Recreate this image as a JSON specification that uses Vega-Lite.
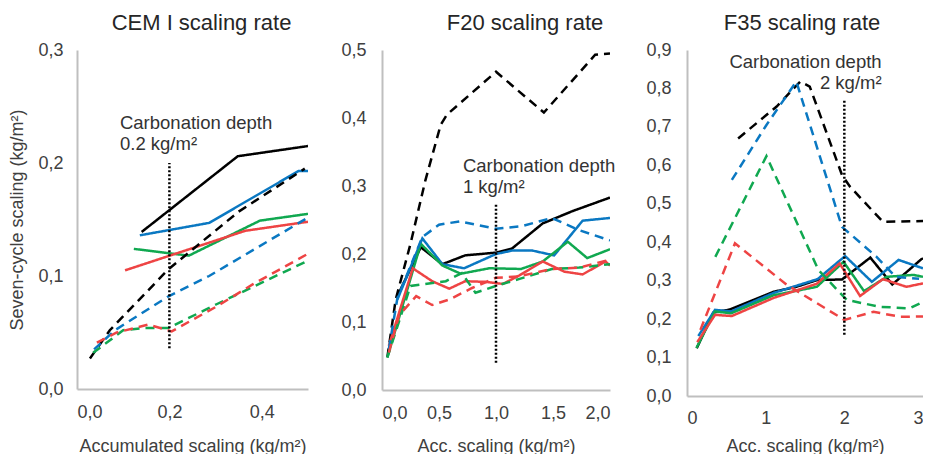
{
"$schema":"https://vega.github.io/schema/vega-lite/v6.json",
"padding":{"left":8,"top":12,"right":0,"bottom":0},
"spacing":32,
"config":{
 "locale":{"number":{"decimal":",","thousands":".","grouping":[3],"currency":["","€"]}},
 "font":"Liberation Sans",
 "view":{"stroke":null},
 "axis":{"grid":false,"ticks":false,"domainColor":"#bfbfbf","domainWidth":2,"labelFontSize":18,"labelColor":"#404040","titleFontSize":18,"titleFontWeight":"normal","titleColor":"#404040","labelPadding":14,"titlePadding":13,"labelOverlap":false,"labelBound":false,"tickCount":20},
 "title":{"fontSize":22,"fontWeight":"normal","color":"#262626","offset":6}
},
"datasets":{
"lines":[
{"p":"CEM","s":"s1","d":"solid","x":0.14,"y":0.139},{"p":"CEM","s":"s1","d":"solid","x":0.348,"y":0.206},{"p":"CEM","s":"s1","d":"solid","x":0.5,"y":0.215},
{"p":"CEM","s":"s2","d":"solid","x":0.136,"y":0.136},{"p":"CEM","s":"s2","d":"solid","x":0.286,"y":0.147},{"p":"CEM","s":"s2","d":"solid","x":0.48,"y":0.193},{"p":"CEM","s":"s2","d":"solid","x":0.5,"y":0.193},
{"p":"CEM","s":"s3","d":"solid","x":0.123,"y":0.124},{"p":"CEM","s":"s3","d":"solid","x":0.242,"y":0.118},{"p":"CEM","s":"s3","d":"solid","x":0.396,"y":0.149},{"p":"CEM","s":"s3","d":"solid","x":0.5,"y":0.155},
{"p":"CEM","s":"s4","d":"solid","x":0.104,"y":0.105},{"p":"CEM","s":"s4","d":"solid","x":0.364,"y":0.14},{"p":"CEM","s":"s4","d":"solid","x":0.5,"y":0.148},
{"p":"CEM","s":"s1","d":"dashed","x":0.028,"y":0.027},{"p":"CEM","s":"s1","d":"dashed","x":0.071,"y":0.052},{"p":"CEM","s":"s1","d":"dashed","x":0.198,"y":0.106},{"p":"CEM","s":"s1","d":"dashed","x":0.35,"y":0.157},{"p":"CEM","s":"s1","d":"dashed","x":0.493,"y":0.195},
{"p":"CEM","s":"s2","d":"dashed","x":0.037,"y":0.035},{"p":"CEM","s":"s2","d":"dashed","x":0.082,"y":0.052},{"p":"CEM","s":"s2","d":"dashed","x":0.198,"y":0.082},{"p":"CEM","s":"s2","d":"dashed","x":0.286,"y":0.1},{"p":"CEM","s":"s2","d":"dashed","x":0.497,"y":0.151},
{"p":"CEM","s":"s3","d":"dashed","x":0.035,"y":0.032},{"p":"CEM","s":"s3","d":"dashed","x":0.1,"y":0.052},{"p":"CEM","s":"s3","d":"dashed","x":0.144,"y":0.054},{"p":"CEM","s":"s3","d":"dashed","x":0.198,"y":0.054},{"p":"CEM","s":"s3","d":"dashed","x":0.302,"y":0.075},{"p":"CEM","s":"s3","d":"dashed","x":0.497,"y":0.113},
{"p":"CEM","s":"s4","d":"dashed","x":0.043,"y":0.041},{"p":"CEM","s":"s4","d":"dashed","x":0.086,"y":0.05},{"p":"CEM","s":"s4","d":"dashed","x":0.154,"y":0.057},{"p":"CEM","s":"s4","d":"dashed","x":0.205,"y":0.051},{"p":"CEM","s":"s4","d":"dashed","x":0.302,"y":0.073},{"p":"CEM","s":"s4","d":"dashed","x":0.382,"y":0.093},{"p":"CEM","s":"s4","d":"dashed","x":0.497,"y":0.119},

{"p":"F20","s":"s1","d":"dashed","x":0.047,"y":0.048},{"p":"F20","s":"s1","d":"dashed","x":0.12,"y":0.133},{"p":"F20","s":"s1","d":"dashed","x":0.25,"y":0.215},{"p":"F20","s":"s1","d":"dashed","x":0.38,"y":0.308},{"p":"F20","s":"s1","d":"dashed","x":0.515,"y":0.39},{"p":"F20","s":"s1","d":"dashed","x":0.57,"y":0.405},{"p":"F20","s":"s1","d":"dashed","x":1.0,"y":0.468},{"p":"F20","s":"s1","d":"dashed","x":1.42,"y":0.408},{"p":"F20","s":"s1","d":"dashed","x":1.87,"y":0.493},{"p":"F20","s":"s1","d":"dashed","x":2.0,"y":0.495},
{"p":"F20","s":"s1","d":"solid","x":0.135,"y":0.138},{"p":"F20","s":"s1","d":"solid","x":0.34,"y":0.21},{"p":"F20","s":"s1","d":"solid","x":0.53,"y":0.185},{"p":"F20","s":"s1","d":"solid","x":0.73,"y":0.198},{"p":"F20","s":"s1","d":"solid","x":1.0,"y":0.202},{"p":"F20","s":"s1","d":"solid","x":1.14,"y":0.208},{"p":"F20","s":"s1","d":"solid","x":1.41,"y":0.245},{"p":"F20","s":"s1","d":"solid","x":1.67,"y":0.263},{"p":"F20","s":"s1","d":"solid","x":2.0,"y":0.283},
{"p":"F20","s":"s2","d":"solid","x":0.135,"y":0.133},{"p":"F20","s":"s2","d":"solid","x":0.354,"y":0.223},{"p":"F20","s":"s2","d":"solid","x":0.53,"y":0.185},{"p":"F20","s":"s2","d":"solid","x":0.72,"y":0.179},{"p":"F20","s":"s2","d":"solid","x":1.0,"y":0.2},{"p":"F20","s":"s2","d":"solid","x":1.14,"y":0.205},{"p":"F20","s":"s2","d":"solid","x":1.32,"y":0.205},{"p":"F20","s":"s2","d":"solid","x":1.51,"y":0.198},{"p":"F20","s":"s2","d":"solid","x":1.76,"y":0.249},{"p":"F20","s":"s2","d":"solid","x":2.0,"y":0.253},
{"p":"F20","s":"s3","d":"solid","x":0.047,"y":0.048},{"p":"F20","s":"s3","d":"solid","x":0.34,"y":0.215},{"p":"F20","s":"s3","d":"solid","x":0.53,"y":0.183},{"p":"F20","s":"s3","d":"solid","x":0.69,"y":0.171},{"p":"F20","s":"s3","d":"solid","x":0.94,"y":0.179},{"p":"F20","s":"s3","d":"solid","x":1.22,"y":0.178},{"p":"F20","s":"s3","d":"solid","x":1.41,"y":0.189},{"p":"F20","s":"s3","d":"solid","x":1.63,"y":0.218},{"p":"F20","s":"s3","d":"solid","x":1.8,"y":0.194},{"p":"F20","s":"s3","d":"solid","x":2.0,"y":0.207},
{"p":"F20","s":"s4","d":"solid","x":0.06,"y":0.065},{"p":"F20","s":"s4","d":"solid","x":0.27,"y":0.179},{"p":"F20","s":"s4","d":"solid","x":0.44,"y":0.16},{"p":"F20","s":"s4","d":"solid","x":0.59,"y":0.149},{"p":"F20","s":"s4","d":"solid","x":0.73,"y":0.16},{"p":"F20","s":"s4","d":"solid","x":0.91,"y":0.159},{"p":"F20","s":"s4","d":"solid","x":1.06,"y":0.156},{"p":"F20","s":"s4","d":"solid","x":1.2,"y":0.168},{"p":"F20","s":"s4","d":"solid","x":1.41,"y":0.189},{"p":"F20","s":"s4","d":"solid","x":1.6,"y":0.174},{"p":"F20","s":"s4","d":"solid","x":1.76,"y":0.17},{"p":"F20","s":"s4","d":"solid","x":1.96,"y":0.189},{"p":"F20","s":"s4","d":"solid","x":2.0,"y":0.183},
{"p":"F20","s":"s2","d":"dashed","x":0.06,"y":0.06},{"p":"F20","s":"s2","d":"dashed","x":0.135,"y":0.135},{"p":"F20","s":"s2","d":"dashed","x":0.354,"y":0.225},{"p":"F20","s":"s2","d":"dashed","x":0.5,"y":0.243},{"p":"F20","s":"s2","d":"dashed","x":0.68,"y":0.248},{"p":"F20","s":"s2","d":"dashed","x":1.0,"y":0.237},{"p":"F20","s":"s2","d":"dashed","x":1.23,"y":0.241},{"p":"F20","s":"s2","d":"dashed","x":1.49,"y":0.253},{"p":"F20","s":"s2","d":"dashed","x":1.73,"y":0.235},{"p":"F20","s":"s2","d":"dashed","x":2.0,"y":0.22},
{"p":"F20","s":"s3","d":"dashed","x":0.047,"y":0.048},{"p":"F20","s":"s3","d":"dashed","x":0.25,"y":0.153},{"p":"F20","s":"s3","d":"dashed","x":0.56,"y":0.16},{"p":"F20","s":"s3","d":"dashed","x":0.7,"y":0.172},{"p":"F20","s":"s3","d":"dashed","x":0.82,"y":0.143},{"p":"F20","s":"s3","d":"dashed","x":1.0,"y":0.153},{"p":"F20","s":"s3","d":"dashed","x":1.2,"y":0.163},{"p":"F20","s":"s3","d":"dashed","x":1.49,"y":0.178},{"p":"F20","s":"s3","d":"dashed","x":1.73,"y":0.18},{"p":"F20","s":"s3","d":"dashed","x":2.0,"y":0.185},
{"p":"F20","s":"s4","d":"dashed","x":0.06,"y":0.055},{"p":"F20","s":"s4","d":"dashed","x":0.15,"y":0.11},{"p":"F20","s":"s4","d":"dashed","x":0.3,"y":0.138},{"p":"F20","s":"s4","d":"dashed","x":0.44,"y":0.125},{"p":"F20","s":"s4","d":"dashed","x":0.59,"y":0.133},{"p":"F20","s":"s4","d":"dashed","x":0.79,"y":0.15},{"p":"F20","s":"s4","d":"dashed","x":1.0,"y":0.165},{"p":"F20","s":"s4","d":"dashed","x":1.2,"y":0.167},{"p":"F20","s":"s4","d":"dashed","x":1.49,"y":0.178},{"p":"F20","s":"s4","d":"dashed","x":1.73,"y":0.18},{"p":"F20","s":"s4","d":"dashed","x":1.96,"y":0.19},{"p":"F20","s":"s4","d":"dashed","x":2.0,"y":0.185},

{"p":"F35","s":"s1","d":"solid","x":0.123,"y":0.124},{"p":"F35","s":"s1","d":"solid","x":0.334,"y":0.217},{"p":"F35","s":"s1","d":"solid","x":0.546,"y":0.225},{"p":"F35","s":"s1","d":"solid","x":1.1,"y":0.271},{"p":"F35","s":"s1","d":"solid","x":1.39,"y":0.284},{"p":"F35","s":"s1","d":"solid","x":1.66,"y":0.302},{"p":"F35","s":"s1","d":"solid","x":1.97,"y":0.303},{"p":"F35","s":"s1","d":"solid","x":2.33,"y":0.36},{"p":"F35","s":"s1","d":"solid","x":2.61,"y":0.29},{"p":"F35","s":"s1","d":"solid","x":2.98,"y":0.356},{"p":"F35","s":"s1","d":"solid","x":3.0,"y":0.358},
{"p":"F35","s":"s2","d":"solid","x":0.144,"y":0.156},{"p":"F35","s":"s2","d":"solid","x":0.356,"y":0.224},{"p":"F35","s":"s2","d":"solid","x":0.56,"y":0.22},{"p":"F35","s":"s2","d":"solid","x":1.1,"y":0.268},{"p":"F35","s":"s2","d":"solid","x":1.66,"y":0.304},{"p":"F35","s":"s2","d":"solid","x":2.01,"y":0.364},{"p":"F35","s":"s2","d":"solid","x":2.35,"y":0.297},{"p":"F35","s":"s2","d":"solid","x":2.69,"y":0.354},{"p":"F35","s":"s2","d":"solid","x":3.0,"y":0.332},
{"p":"F35","s":"s3","d":"solid","x":0.12,"y":0.125},{"p":"F35","s":"s3","d":"solid","x":0.356,"y":0.22},{"p":"F35","s":"s3","d":"solid","x":0.56,"y":0.215},{"p":"F35","s":"s3","d":"solid","x":1.1,"y":0.262},{"p":"F35","s":"s3","d":"solid","x":1.65,"y":0.284},{"p":"F35","s":"s3","d":"solid","x":1.99,"y":0.349},{"p":"F35","s":"s3","d":"solid","x":2.25,"y":0.273},{"p":"F35","s":"s3","d":"solid","x":2.54,"y":0.31},{"p":"F35","s":"s3","d":"solid","x":2.88,"y":0.315},{"p":"F35","s":"s3","d":"solid","x":3.0,"y":0.31},
{"p":"F35","s":"s4","d":"solid","x":0.13,"y":0.14},{"p":"F35","s":"s4","d":"solid","x":0.356,"y":0.211},{"p":"F35","s":"s4","d":"solid","x":0.57,"y":0.208},{"p":"F35","s":"s4","d":"solid","x":1.1,"y":0.255},{"p":"F35","s":"s4","d":"solid","x":1.65,"y":0.292},{"p":"F35","s":"s4","d":"solid","x":1.94,"y":0.345},{"p":"F35","s":"s4","d":"solid","x":2.2,"y":0.26},{"p":"F35","s":"s4","d":"solid","x":2.49,"y":0.304},{"p":"F35","s":"s4","d":"solid","x":2.79,"y":0.284},{"p":"F35","s":"s4","d":"solid","x":3.0,"y":0.293},
{"p":"F35","s":"s1","d":"dashed","x":0.65,"y":0.67},{"p":"F35","s":"s1","d":"dashed","x":1.14,"y":0.753},{"p":"F35","s":"s1","d":"dashed","x":1.44,"y":0.818},{"p":"F35","s":"s1","d":"dashed","x":1.56,"y":0.805},{"p":"F35","s":"s1","d":"dashed","x":1.97,"y":0.575},{"p":"F35","s":"s1","d":"dashed","x":2.07,"y":0.545},{"p":"F35","s":"s1","d":"dashed","x":2.49,"y":0.453},{"p":"F35","s":"s1","d":"dashed","x":3.0,"y":0.455},
{"p":"F35","s":"s2","d":"dashed","x":0.57,"y":0.562},{"p":"F35","s":"s2","d":"dashed","x":1.01,"y":0.705},{"p":"F35","s":"s2","d":"dashed","x":1.39,"y":0.818},{"p":"F35","s":"s2","d":"dashed","x":1.97,"y":0.44},{"p":"F35","s":"s2","d":"dashed","x":2.41,"y":0.362},{"p":"F35","s":"s2","d":"dashed","x":2.65,"y":0.31},{"p":"F35","s":"s2","d":"dashed","x":2.95,"y":0.305},
{"p":"F35","s":"s3","d":"dashed","x":0.36,"y":0.362},{"p":"F35","s":"s3","d":"dashed","x":1.01,"y":0.624},{"p":"F35","s":"s3","d":"dashed","x":1.67,"y":0.328},{"p":"F35","s":"s3","d":"dashed","x":2.03,"y":0.25},{"p":"F35","s":"s3","d":"dashed","x":2.45,"y":0.232},{"p":"F35","s":"s3","d":"dashed","x":2.83,"y":0.228},{"p":"F35","s":"s3","d":"dashed","x":3.0,"y":0.245},
{"p":"F35","s":"s4","d":"dashed","x":0.17,"y":0.172},{"p":"F35","s":"s4","d":"dashed","x":0.61,"y":0.397},{"p":"F35","s":"s4","d":"dashed","x":1.27,"y":0.289},{"p":"F35","s":"s4","d":"dashed","x":2.0,"y":0.198},{"p":"F35","s":"s4","d":"dashed","x":2.37,"y":0.219},{"p":"F35","s":"s4","d":"dashed","x":2.71,"y":0.206},{"p":"F35","s":"s4","d":"dashed","x":3.0,"y":0.207}
],
"rules":[
{"p":"CEM","x":0.2,"y":0.036,"y2":0.2},
{"p":"F20","x":1.0,"y":0.04,"y2":0.275},
{"p":"F35","x":2.0,"y":0.159,"y2":0.77}
],
"notes":[
{"p":"CEM","x":0.093,"y":0.2297,"t":"Carbonation depth"},
{"p":"CEM","x":0.093,"y":0.2117,"t":"0.2 kg/m²"},
{"p":"F20","x":0.71,"y":0.321,"t":"Carbonation depth"},
{"p":"F20","x":0.71,"y":0.29,"t":"1 kg/m²"},
{"p":"F35","x":2.474,"y":0.8525,"t":"Carbonation depth"},
{"p":"F35","x":2.474,"y":0.798,"t":"2 kg/m²"}
]
},
"hconcat":[
{
 "width":231,"height":339,
 "title":{"text":"CEM I scaling rate","dx":9},
 "layer":[
  {"data":{"name":"lines"},"transform":[{"filter":"datum.p==='CEM'"}],"mark":{"type":"line","strokeWidth":2.5,"clip":true},
   "encoding":{
    "x":{"field":"x","type":"quantitative","scale":{"domain":[0,0.5],"nice":false},"axis":{"values":[0,0.2,0.4],"format":".1f","title":"Accumulated scaling (kg/m²)","titlePadding":16,"labelOverlap":false,"tickCount":20}},
    "y":{"field":"y","type":"quantitative","scale":{"domain":[0,0.3],"nice":false},"axis":{"values":[0,0.1,0.2,0.3],"format":".1f","title":"Seven-cycle scaling (kg/m²)","titlePadding":11,"labelOverlap":false,"tickCount":20}},
    "color":{"field":"s","type":"nominal","scale":{"domain":["s1","s2","s3","s4"],"range":["#000000","#0a78c2","#10a850","#ee4444"]},"legend":null},
    "strokeDash":{"field":"d","type":"nominal","scale":{"domain":["solid","dashed"],"range":[[1,0],[9,6]]},"legend":null}
   }},
  {"data":{"name":"rules"},"transform":[{"filter":"datum.p==='CEM'"}],"mark":{"type":"rule","strokeWidth":2.5,"strokeDash":[2,2],"color":"#000000"},
   "encoding":{"x":{"field":"x","type":"quantitative"},"y":{"field":"y","type":"quantitative"},"y2":{"field":"y2"}}},
  {"data":{"name":"notes"},"transform":[{"filter":"datum.p==='CEM'"}],"mark":{"type":"text","align":"left","baseline":"alphabetic","fontSize":18.5,"color":"#333333"},
   "encoding":{"x":{"field":"x","type":"quantitative"},"y":{"field":"y","type":"quantitative"},"text":{"field":"t"}}}
 ]
},
{
"spacing":29,
"hconcat":[
{
 "width":228,"height":340,
 "title":{"text":"F20 scaling rate","dx":29},
 "layer":[
  {"data":{"name":"lines"},"transform":[{"filter":"datum.p==='F20'"}],"mark":{"type":"line","strokeWidth":2.5,"clip":true},
   "encoding":{
    "x":{"field":"x","type":"quantitative","scale":{"domain":[0,2],"nice":false},"axis":{"values":[0,0.5,1,1.5,2],"format":".1f","title":"Acc. scaling (kg/m²)","titlePadding":15,"labelOverlap":false,"tickCount":20}},
    "y":{"field":"y","type":"quantitative","scale":{"domain":[0,0.5],"nice":false},"axis":{"values":[0,0.1,0.2,0.3,0.4,0.5],"format":".1f","title":null,"labelPadding":16,"labelOverlap":false,"tickCount":20}},
    "color":{"field":"s","type":"nominal","scale":{"domain":["s1","s2","s3","s4"],"range":["#000000","#0a78c2","#10a850","#ee4444"]},"legend":null},
    "strokeDash":{"field":"d","type":"nominal","scale":{"domain":["solid","dashed"],"range":[[1,0],[9,6]]},"legend":null}
   }},
  {"data":{"name":"rules"},"transform":[{"filter":"datum.p==='F20'"}],"mark":{"type":"rule","strokeWidth":2.5,"strokeDash":[2,2],"color":"#000000"},
   "encoding":{"x":{"field":"x","type":"quantitative"},"y":{"field":"y","type":"quantitative"},"y2":{"field":"y2"}}},
  {"data":{"name":"notes"},"transform":[{"filter":"datum.p==='F20'"}],"mark":{"type":"text","align":"left","baseline":"alphabetic","fontSize":18.5,"color":"#333333"},
   "encoding":{"x":{"field":"x","type":"quantitative"},"y":{"field":"y","type":"quantitative"},"text":{"field":"t"}}}
 ]
},
{
 "width":236,"height":346,
 "title":{"text":"F35 scaling rate","dx":-3},
 "layer":[
  {"data":{"name":"lines"},"transform":[{"filter":"datum.p==='F35'"}],"mark":{"type":"line","strokeWidth":2.5,"clip":true},
   "encoding":{
    "x":{"field":"x","type":"quantitative","scale":{"domain":[0,3],"nice":false},"axis":{"values":[0,1,2,3],"format":"d","title":"Acc. scaling (kg/m²)","labelPadding":13,"titlePadding":10,"labelOverlap":false,"tickCount":20}},
    "y":{"field":"y","type":"quantitative","scale":{"domain":[0,0.9],"nice":false},"axis":{"values":[0,0.1,0.2,0.3,0.4,0.5,0.6,0.7,0.8,0.9],"format":".1f","title":null,"labelPadding":16,"labelOverlap":false,"tickCount":20}},
    "color":{"field":"s","type":"nominal","scale":{"domain":["s1","s2","s3","s4"],"range":["#000000","#0a78c2","#10a850","#ee4444"]},"legend":null},
    "strokeDash":{"field":"d","type":"nominal","scale":{"domain":["solid","dashed"],"range":[[1,0],[9,6]]},"legend":null}
   }},
  {"data":{"name":"rules"},"transform":[{"filter":"datum.p==='F35'"}],"mark":{"type":"rule","strokeWidth":2.5,"strokeDash":[2,2],"color":"#000000"},
   "encoding":{"x":{"field":"x","type":"quantitative"},"y":{"field":"y","type":"quantitative"},"y2":{"field":"y2"}}},
  {"data":{"name":"notes"},"transform":[{"filter":"datum.p==='F35'"}],"mark":{"type":"text","align":"right","baseline":"alphabetic","fontSize":18.5,"color":"#333333"},
   "encoding":{"x":{"field":"x","type":"quantitative"},"y":{"field":"y","type":"quantitative"},"text":{"field":"t"}}}
 ]
}
]
}
]
}
